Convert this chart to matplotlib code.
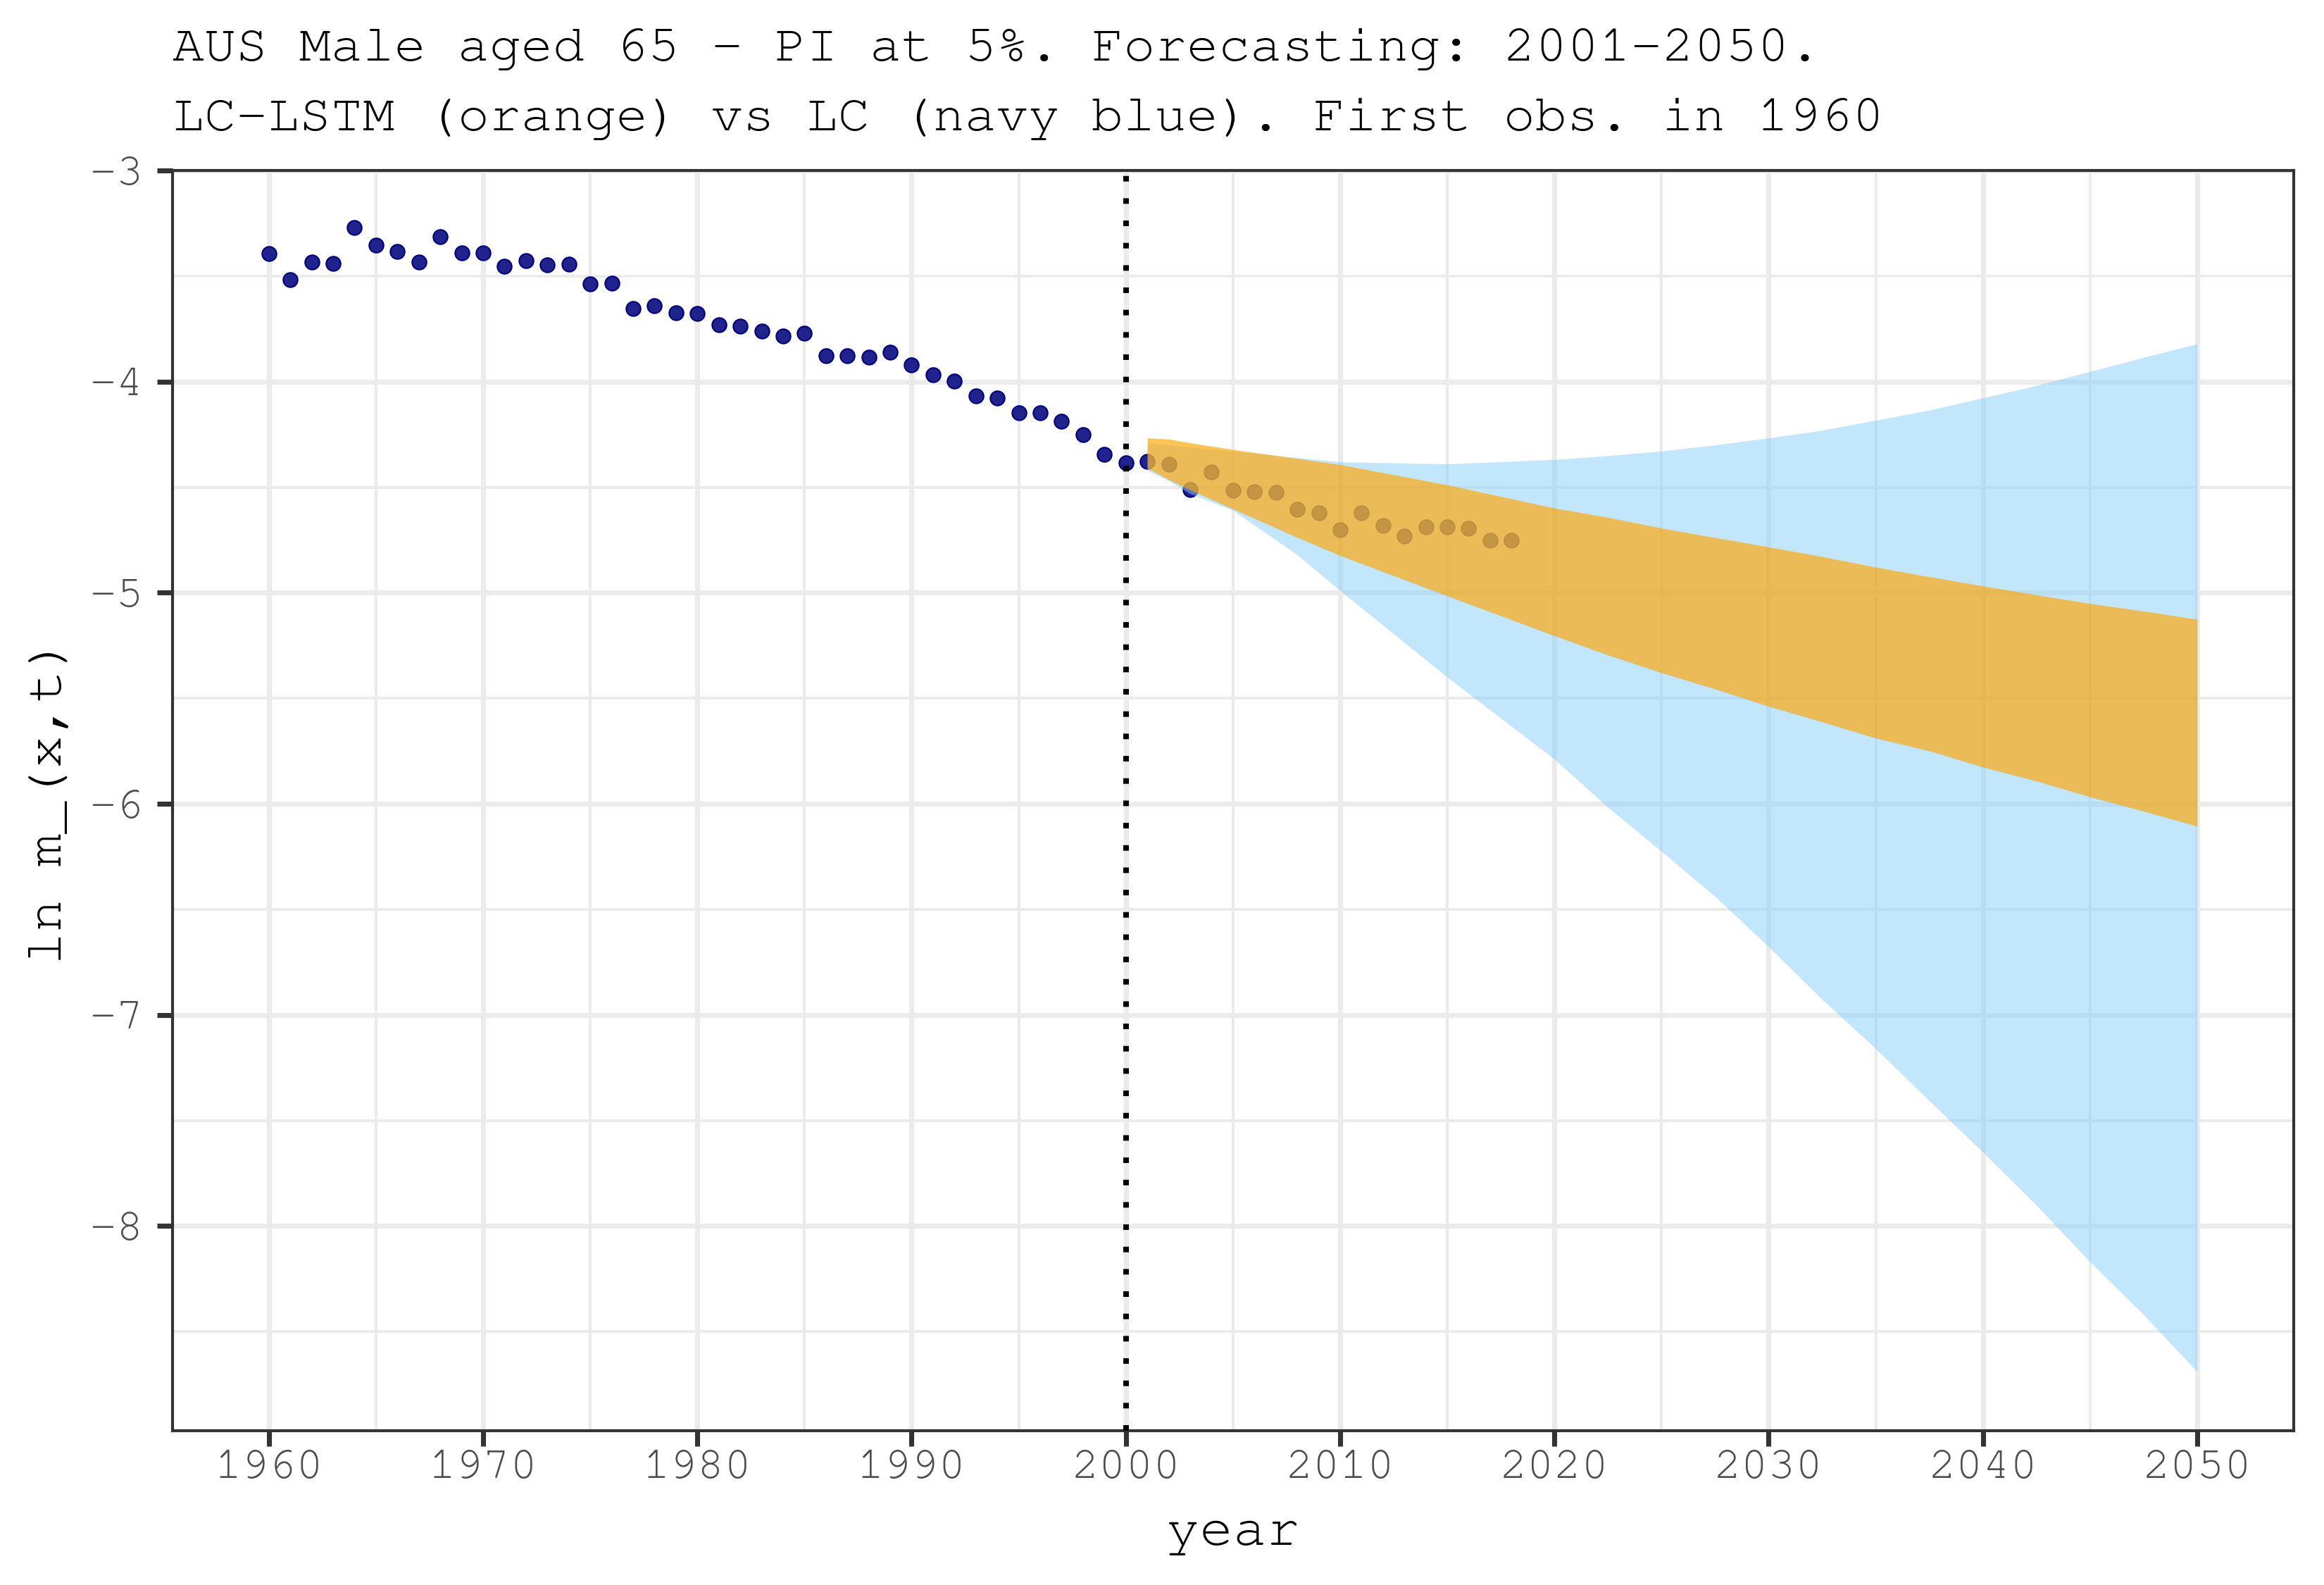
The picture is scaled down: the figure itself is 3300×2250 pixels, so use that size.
import matplotlib
matplotlib.use("Agg")
import matplotlib.pyplot as plt
from matplotlib import font_manager
from matplotlib.ticker import MultipleLocator

# courier-like font if one is around, else Liberation Mono (same metrics)
installed = {f.name for f in font_manager.fontManager.ttflist}
mono = [n for n in ['Courier New', 'Nimbus Mono PS', 'FreeMono', 'Liberation Mono'] if n in installed]
plt.rcParams['font.family'] = mono + ['DejaVu Sans Mono']

# observed log death rates, AUS male aged 65
obs_years = list(range(1960, 2019))
obs_vals = [-3.394, -3.517, -3.434, -3.440, -3.270, -3.353, -3.383, -3.434, -3.313, -3.390,
            -3.390, -3.453, -3.427, -3.447, -3.444, -3.537, -3.534, -3.654, -3.640, -3.674,
            -3.677, -3.731, -3.738, -3.760, -3.785, -3.770, -3.876, -3.878, -3.884, -3.859,
            -3.922, -3.966, -3.999, -4.069, -4.079, -4.147, -4.149, -4.189, -4.252, -4.344,
            -4.384, -4.379, -4.392, -4.512, -4.428, -4.516, -4.521, -4.524, -4.606, -4.622,
            -4.702, -4.622, -4.682, -4.732, -4.689, -4.689, -4.696, -4.752, -4.753]

# 95% prediction intervals
band_years = [2001, 2002, 2003, 2005, 2008, 2010, 2015, 2020, 2022.5, 2025, 2027.5,
              2030, 2032.5, 2035, 2037.5, 2040, 2042.5, 2045, 2047.5, 2050]
lc_upper = [-4.29, -4.30, -4.31, -4.33, -4.36, -4.38, -4.39, -4.369, -4.351, -4.329, -4.300,
            -4.267, -4.230, -4.183, -4.135, -4.077, -4.018, -3.952, -3.885, -3.821]
lc_lower = [-4.42, -4.47, -4.53, -4.61, -4.82, -4.99, -5.40, -5.788, -6.017, -6.225, -6.439,
            -6.677, -6.927, -7.160, -7.407, -7.650, -7.902, -8.170, -8.420, -8.690]
lstm_upper = [-4.267, -4.272, -4.29, -4.322, -4.364, -4.393, -4.489, -4.599, -4.643, -4.694, -4.739,
              -4.783, -4.829, -4.879, -4.924, -4.968, -5.010, -5.051, -5.087, -5.126]
lstm_lower = [-4.41, -4.464, -4.513, -4.603, -4.738, -4.824, -5.015, -5.204, -5.295, -5.379, -5.456,
              -5.538, -5.612, -5.689, -5.749, -5.826, -5.892, -5.967, -6.035, -6.106]

fig = plt.figure(figsize=(11, 7.5), dpi=300)
ax = fig.add_axes([0.0742, 0.0973, 0.9127, 0.7951])

# gridlines like theme_bw
ax.xaxis.set_major_locator(MultipleLocator(10))
ax.xaxis.set_minor_locator(MultipleLocator(5))
ax.yaxis.set_major_locator(MultipleLocator(1))
ax.yaxis.set_minor_locator(MultipleLocator(0.5))
ax.grid(which='major', color='#EBEBEB', linewidth=1.7, zorder=0)
ax.grid(which='minor', color='#EBEBEB', linewidth=0.95, zorder=0)
ax.set_axisbelow(True)

ax.scatter(obs_years, obs_vals, s=24, facecolor='#22228c', edgecolor='#000080',
           linewidths=0.5, zorder=2)
ax.fill_between(band_years, lc_lower, lc_upper, color='#87CEFA', alpha=0.5,
                linewidth=0, zorder=3)
ax.fill_between(band_years, lstm_lower, lstm_upper, color='#FFA500', alpha=0.66,
                linewidth=0, zorder=4)
ax.axvline(2000, color='black', linewidth=1.9, linestyle=(0, (1, 3)),
           dash_capstyle='butt', zorder=5)

ax.set_xlim(1955.5, 2054.5)
ax.set_ylim(-8.97, -3.0)

for sp in ax.spines.values():
    sp.set_color('#333333')
    sp.set_linewidth(1.0)
ax.tick_params(which='major', length=5.3, width=1.7, color='#333333',
               labelcolor='#4D4D4D', labelsize=15.5)
ax.tick_params(axis='x', which='major', pad=1.5)
ax.tick_params(axis='y', which='major', pad=4.5)
ax.tick_params(which='minor', length=0)

ax.set_xlabel('year', fontsize=19, color='black')
ax.xaxis.set_label_coords(0.5, -0.0906)
ax.xaxis.label.set_va('baseline')
ax.set_ylabel('ln m_(x,t)', fontsize=18.6, color='black')
ax.yaxis.set_label_coords(-0.0578, 0.5)
ax.yaxis.label.set_va('center')

fig.text(245 / 3300, 1 - 86 / 2250, 'AUS Male aged 65 - PI at 5%. Forecasting: 2001-2050.',
         fontsize=18, va='baseline', ha='left')
fig.text(245 / 3300, 1 - 185 / 2250, 'LC-LSTM (orange) vs LC (navy blue). First obs. in 1960',
         fontsize=18, va='baseline', ha='left')

fig.savefig('out.png', dpi=300)
